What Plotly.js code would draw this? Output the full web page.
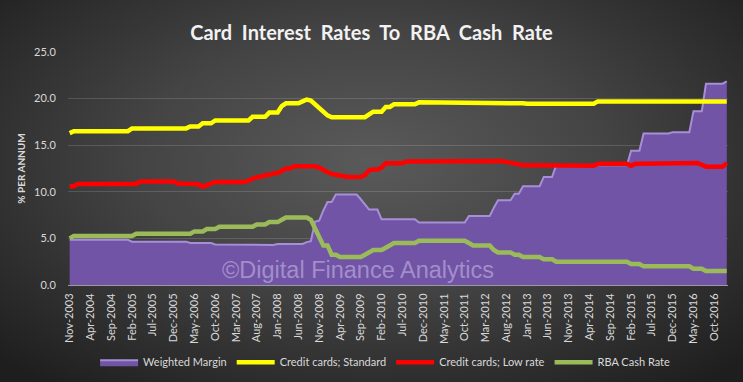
<!DOCTYPE html>
<html>
<head>
<meta charset="utf-8">
<script src="https://cdn.plot.ly/plotly-3.0.1.min.js"></script>
<style>
html,body{margin:0;padding:0;}
#chart{width:743px;height:382px;background:radial-gradient(ellipse 70% 75% at 50% 42%, #5a5a5a 0%, #444444 45%, #2c2c2c 80%, #1e1e1e 100%);}
</style>
</head>
<body>
<div id="chart"></div>
<script>
// Monthly categories Nov-2003 .. Jan-2017
const monthNames = ["Jan","Feb","Mar","Apr","May","Jun","Jul","Aug","Sep","Oct","Nov","Dec"];
const startYear = 2003, startMonth = 10, nMonths = 159;
const categories = [];
for (let i = 0; i < nMonths; i++) {
  const mi = startMonth + i;
  categories.push(monthNames[mi % 12] + "-" + (startYear + Math.floor(mi / 12)));
}
const tickLabels = categories.filter((c, i) => i % 5 === 0);

const weightedMargin = [
  4.85,4.85,4.85,4.85,4.85,4.85,4.85,4.85,4.85,4.85,4.85,4.85,4.85,4.85,4.85,
  4.65,4.65,4.65,4.65,4.65,4.65,4.65,4.65,4.65,4.65,4.65,4.65,4.65,4.65,
  4.5,4.5,4.5,4.5,4.5,4.5,
  4.35,4.35,4.35,4.35,4.35,4.35,4.35,4.35,4.35,
  4.3,4.3,4.3,4.3,4.3,4.3,
  4.4,4.4,4.4,4.4,4.4,4.4,4.4,
  4.6,4.7,6.8,6.9,8.0,8.9,8.9,
  9.7,9.7,9.7,9.7,9.7,9.7,
  9.2,8.6,
  8.1,8.1,8.1,
  7.05,7.05,7.05,7.05,7.05,7.05,7.05,7.05,7.05,
  6.7,6.7,6.7,6.7,6.7,6.7,6.7,6.7,6.7,6.7,6.7,6.7,
  7.4,7.4,7.4,7.4,7.4,7.4,
  8.3,
  9.1,9.1,9.1,9.1,
  9.8,9.8,
  10.6,10.6,10.6,10.6,10.6,
  11.6,11.6,11.6,
  12.85,12.85,12.85,12.85,12.85,12.85,12.85,12.85,12.85,12.85,12.85,12.85,12.85,12.85,12.85,12.85,12.85,12.85,
  14.4,14.4,14.4,
  16.25,16.25,16.25,16.25,16.25,16.25,16.25,
  16.4,16.4,16.4,16.4,16.4,
  18.65,18.65,18.65,
  21.6,21.6,21.6,21.6,21.6,
  21.85
];

const standardRate = [
  16.3,
  16.5,16.5,16.5,16.5,16.5,16.5,16.5,16.5,16.5,16.5,16.5,16.5,16.5,16.5,
  16.8,16.8,16.8,16.8,16.8,16.8,16.8,16.8,16.8,16.8,16.8,16.8,16.8,16.8,
  17.0,17.0,17.0,
  17.35,17.35,17.35,
  17.65,17.65,17.65,17.65,17.65,17.65,17.65,17.65,17.65,
  18.05,18.05,18.05,18.05,
  18.5,18.5,18.5,
  19.2,
  19.5,19.5,19.5,19.5,
  19.7,19.9,19.8,19.4,19.0,18.6,18.2,
  18.0,18.0,18.0,18.0,18.0,18.0,18.0,18.0,18.0,
  18.3,
  18.6,18.6,18.6,
  19.1,19.1,
  19.4,19.4,19.4,19.4,19.4,19.4,
  19.6,19.6,19.6,19.6,19.6,19.6,19.6,19.6,19.6,19.6,19.6,19.6,19.6,19.6,19.6,19.6,19.6,
  19.5,19.5,19.5,19.5,19.5,19.5,19.5,19.5,19.5,
  19.45,19.45,19.45,19.45,19.45,19.45,19.45,19.45,19.45,19.45,19.45,19.45,19.45,19.45,19.45,19.45,19.45,
  19.7,19.7,19.7,19.7,19.7,19.7,19.7,19.7,19.7,19.7,19.7,19.7,19.7,19.7,19.7,19.7,
  19.7,19.7,19.7,19.7,19.7,19.7,19.7,19.7,19.7,19.7,19.7,19.7,19.7,19.7,19.7,19.7
];

const lowRate = [
  10.6,10.6,
  10.85,10.85,10.85,10.85,10.85,10.85,10.85,10.85,10.85,10.85,10.85,10.85,10.85,10.85,10.85,
  11.1,11.1,11.1,11.1,11.1,11.1,11.1,11.1,11.1,
  10.9,10.9,10.9,10.9,10.9,
  10.8,10.55,10.7,10.9,
  11.05,11.05,11.05,11.05,11.05,11.05,11.05,11.05,
  11.2,11.35,
  11.6,11.6,
  11.8,11.8,
  12.0,12.0,
  12.3,
  12.5,12.5,
  12.75,12.75,12.75,12.75,12.75,12.75,
  12.6,12.3,12.1,11.9,
  11.8,11.8,
  11.7,
  11.6,11.6,11.6,11.6,
  11.8,12.3,
  12.4,12.4,
  12.6,
  13.05,13.05,13.05,13.05,13.05,
  13.25,13.25,13.25,13.25,13.25,13.25,
  13.35,13.35,13.35,13.35,13.35,13.35,13.35,
  13.3,13.3,13.3,13.3,13.3,13.3,13.3,13.3,
  13.3,13.3,13.3,
  13.2,13.1,
  13.0,13.0,
  12.85,12.85,12.85,12.85,12.85,12.85,12.85,12.85,
  12.8,12.8,12.8,12.8,12.8,12.8,12.8,12.8,12.8,12.8,
  13.0,13.0,13.0,13.0,13.0,13.0,13.0,13.0,
  12.8,
  13.0,13.0,13.0,13.0,13.0,13.0,13.0,13.0,13.0,13.0,13.0,
  13.1,13.1,13.1,13.1,13.1,
  12.9,
  12.7,12.7,12.7,12.7,12.7,
  13.1
];

const cashRate = [
  5.0,
  5.25,5.25,5.25,5.25,5.25,5.25,5.25,5.25,5.25,5.25,5.25,5.25,5.25,5.25,5.25,
  5.5,5.5,5.5,5.5,5.5,5.5,5.5,5.5,5.5,5.5,5.5,5.5,5.5,5.5,
  5.75,5.75,5.75,
  6.0,6.0,6.0,
  6.25,6.25,6.25,6.25,6.25,6.25,6.25,6.25,6.25,
  6.5,6.5,6.5,
  6.75,6.75,6.75,
  7.0,
  7.25,7.25,7.25,7.25,7.25,7.25,
  7.0,6.0,5.25,
  4.25,4.25,
  3.25,3.25,
  3.0,3.0,3.0,3.0,3.0,3.0,
  3.25,3.5,
  3.75,3.75,3.75,
  4.0,4.25,
  4.5,4.5,4.5,4.5,4.5,4.5,
  4.75,4.75,4.75,4.75,4.75,4.75,4.75,4.75,4.75,4.75,4.75,4.75,
  4.5,
  4.25,4.25,4.25,4.25,4.25,
  3.75,
  3.5,3.5,3.5,3.5,
  3.25,3.25,
  3.0,3.0,3.0,3.0,3.0,
  2.75,2.75,2.75,
  2.5,2.5,2.5,2.5,2.5,2.5,2.5,2.5,2.5,2.5,2.5,2.5,2.5,2.5,2.5,2.5,2.5,2.5,
  2.25,2.25,2.25,
  2.0,2.0,2.0,2.0,2.0,2.0,2.0,2.0,2.0,2.0,2.0,2.0,
  1.75,1.75,1.75,
  1.5,1.5,1.5,1.5,1.5,1.5
];

const seriesNames = ["Weighted Margin", "Credit cards; Standard", "Credit cards; Low rate", "RBA Cash Rate"];

const traces = [
  {x: categories, y: weightedMargin, name: seriesNames[0], type: "scatter", mode: "lines",
   fill: "tozeroy", fillcolor: "#7154a5", line: {color: "#a78fd8", width: 2}},
  {x: categories, y: standardRate, name: seriesNames[1], type: "scatter", mode: "lines",
   line: {color: "#ffff00", width: 4.5}},
  {x: categories, y: lowRate, name: seriesNames[2], type: "scatter", mode: "lines",
   line: {color: "#ff0000", width: 4.5}},
  {x: categories, y: cashRate, name: seriesNames[3], type: "scatter", mode: "lines",
   line: {color: "#9bbb59", width: 4.5}}
];

const layout = {
  width: 743, height: 382,
  paper_bgcolor: "rgba(0,0,0,0)",
  plot_bgcolor: "rgba(0,0,0,0)",
  margin: {l: 68, r: 15, t: 52, b: 97, autoexpand: false},
  font: {family: "Lato, 'Open Sans', sans-serif", color: "#d9d9d9", size: 11},
  title: {text: "Card  Interest  Rates  To  RBA  Cash  Rate", x: 0.5, xanchor: "center",
          y: 0.913, yanchor: "middle", yref: "container",
          font: {family: "Lato, sans-serif", size: 20, color: "#f2f2f2", weight: "bold"}},
  xaxis: {type: "category", range: [-0.4, 158.3], tickmode: "array", tickvals: tickLabels,
          ticktext: tickLabels, tickangle: -90, showgrid: false, showline: true, automargin: false,
          linecolor: "#9a9a9a", linewidth: 1, ticks: "outside", ticklen: 3, tickcolor: "rgba(0,0,0,0)",
          tickfont: {size: 11, color: "#d9d9d9"}, zeroline: false},
  yaxis: {range: [0, 25], tickvals: [0, 5, 10, 15, 20, 25], tickformat: ".1f", automargin: false,
          showgrid: true, gridcolor: "rgba(255,255,255,0.14)", gridwidth: 1,
          zeroline: false, ticks: "outside", ticklen: 9, tickcolor: "rgba(0,0,0,0)",
          tickfont: {size: 11, color: "#d9d9d9"},
          title: {text: "<b>% PER ANNUM</b>", standoff: 6, font: {size: 10, color: "#d9d9d9"}}},
  legend: {orientation: "h", x: 0.128, xref: "container", xanchor: "left", y: 0.052, yref: "container", yanchor: "middle",
           font: {size: 11, color: "#d9d9d9"}, bgcolor: "rgba(0,0,0,0)", itemwidth: 38},
  annotations: [{text: "©Digital Finance Analytics", xref: "paper", yref: "paper",
                 x: 0.44, y: 0.065, xanchor: "center", yanchor: "middle", showarrow: false,
                 font: {family: "Liberation Sans, Arial, sans-serif", size: 23.5, color: "rgba(205,195,235,0.55)"}}],
  showlegend: true
};

Plotly.newPlot("chart", traces, layout, {displayModeBar: false, staticPlot: true});
</script>
</body>
</html>
